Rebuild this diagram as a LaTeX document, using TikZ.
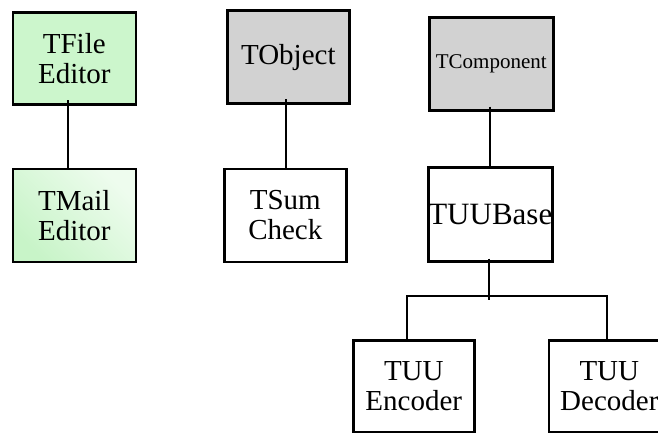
\documentclass[tikz,border=0pt]{standalone}
\usepackage{fontspec}
\setmainfont{Liberation Serif}
\begin{document}
\begin{tikzpicture}[x=1pt,y=-1pt,
  cls/.style={draw=black,line width=2.6pt,minimum width=120pt,minimum height=91pt,
    inner sep=0pt,align=center,font=\fontsize{29}{30}\selectfont,anchor=north west},
  grn/.style={fill={rgb,255:red,204;green,246;blue,204}},
  grngrad/.style={left color={rgb,255:red,200;green,244;blue,200},right color={rgb,255:red,238;green,252;blue,238},shading angle=135},
  gry/.style={fill={rgb,255:red,210;green,210;blue,210}},
  conn/.style={line width=2pt}]
\useasboundingbox (0,0) rectangle (658,433);
\begin{scope}
\clip (0,0) rectangle (658,433);
\node[cls,grn,minimum width=123pt,minimum height=92pt] (fe) at (11.5,11.5) {TFile\\Editor};
\node[cls,grngrad,minimum width=123pt,minimum height=93pt] (me) at (11.5,167.5) {TMail\\Editor};
\node[cls,gry,minimum width=122pt,minimum height=93pt] (to) at (226,9.5) {TObject};
\node[cls,minimum width=122pt,minimum height=93pt] (ts) at (223,167.5) {TSum\\Check};
\node[cls,gry,minimum width=124pt,minimum height=93pt,font=\fontsize{21}{24}\selectfont] (tc) at (428,16) {TComponent};
\node[cls,minimum width=122pt,minimum height=94pt,font=\fontsize{31}{32}\selectfont] (tb) at (427,166) {TUUBase};
\node[cls,minimum width=121pt,minimum height=92pt] (en) at (352,339) {TUU\\Encoder};
\node[cls,minimum width=121pt,minimum height=92pt] (de) at (547.5,339) {TUU\\Decoder};
\end{scope}
\coordinate (bar) at (489,296);
\draw[conn] ([yshift=6pt]fe.south -| 68,0) -- (me.north -| 68,0);
\draw[conn] ([yshift=6pt]to.south -| 286,0) -- (ts.north -| 286,0);
\draw[conn] ([yshift=5pt]tc.south -| 490,0) -- (tb.north -| 490,0);
\draw[conn] ([yshift=4pt]tb.south -| 489,0) -- ([yshift=-4pt]bar);
\draw[conn] (en.north -| 407,0) -- (407,296) -- (607,296) -- (de.north -| 607,0);
\end{tikzpicture}
\end{document}
